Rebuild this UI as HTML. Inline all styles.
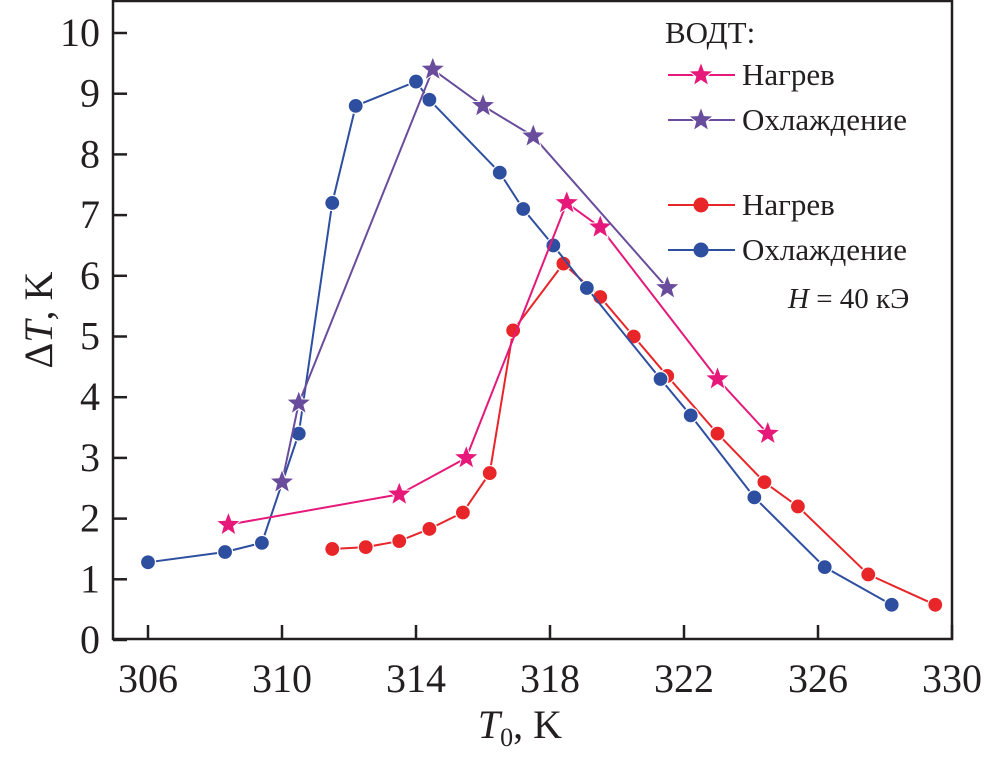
<!DOCTYPE html>
<html><head><meta charset="utf-8"><style>
body{margin:0;background:#fff}
svg text{font-family:"Liberation Serif","DejaVu Serif",serif;fill:#231f20}
</style></head><body>
<svg id="c" width="984" height="758" font-family="Liberation Serif, DejaVu Serif, serif">
<rect x="113" y="1" width="839" height="638" fill="none" stroke="#231f20" stroke-width="2.5"/>
<g id="ax"></g><g id="series"></g>
<text x="665" y="43" font-size="31">ВОДТ:</text>
<text x="520" y="738" font-size="40" text-anchor="middle"><tspan font-style="italic">T</tspan><tspan font-size="26" dy="8">0</tspan><tspan dy="-8">, K</tspan></text>
<text transform="translate(52,320) rotate(-90)" font-size="40" text-anchor="middle">Δ<tspan font-style="italic">T</tspan>, K</text>
<text x="788" y="308" font-size="29"><tspan font-style="italic">H</tspan> = 40 кЭ</text>
</svg>
<script>
const xTicks=[306,310,314,318,322,326,330];
const yTicks=[0,1,2,3,4,5,6,7,8,9,10];
const pinkX=[308.4,313.5,315.5,318.5,319.5,323,324.5];
const pinkY=[1.9,2.4,3.0,7.2,6.8,4.3,3.4];
const purpleX=[310,310.5,314.5,316,317.5,321.5];
const purpleY=[2.6,3.9,9.4,8.8,8.3,5.8];
const redX=[311.5,312.5,313.5,314.4,315.4,316.2,316.9,318.4,319.5,320.5,321.5,323,324.4,325.4,327.5,329.5];
const redY=[1.5,1.53,1.63,1.83,2.1,2.75,5.1,6.2,5.65,5.0,4.35,3.4,2.6,2.2,1.08,0.58];
const blueX=[306,308.3,309.4,310.5,311.5,312.2,314,314.4,316.5,317.2,318.1,319.1,321.3,322.2,324.1,326.2,328.2];
const blueY=[1.28,1.45,1.6,3.4,7.2,8.8,9.2,8.9,7.7,7.1,6.5,5.8,4.3,3.7,2.35,1.2,0.58];
const sx=v=>148+(v-306)*33.5, sy=v=>640-v*60.7;
const NS="http://www.w3.org/2000/svg";
function mk(t,a,p){const e=document.createElementNS(NS,t);for(const k in a)e.setAttribute(k,a[k]);p.appendChild(e);return e;}
const ax=document.getElementById('ax');
xTicks.forEach(v=>{
 const l=mk('line',{x1:sx(v),x2:sx(v),y1:639,y2:625,stroke:'#231f20','stroke-width':2.5},ax);
 
 
 const t=mk('text',{x:sx(v),y:692,'font-size':40,'text-anchor':'middle'},ax);t.textContent=v;
 
 
});
yTicks.forEach(v=>{
 const l=mk('line',{x1:113,x2:127,y1:sy(v),y2:sy(v),stroke:'#231f20','stroke-width':2.5},ax);
 
 
 const t=mk('text',{x:100,y:sy(v)+13,'font-size':40,'text-anchor':'end'},ax);t.textContent=v;
 
 
});
const g=document.getElementById('series');
function star(cx,cy,r,col,p){let pts=[];for(let i=0;i<10;i++){const rr=i%2?r*0.42:r,a=-Math.PI/2+i*Math.PI/5;pts.push((cx+rr*Math.cos(a)).toFixed(1)+','+(cy+rr*Math.sin(a)).toFixed(1));}
 const s=mk('polygon',{points:pts.join(' '),fill:col,stroke:'#fff','stroke-width':1},p);return s;}
function series(xs,ys,col,kind,name){
 const grp=mk('g',{},g);
 
 
 mk('polyline',{points:xs.map((x,i)=>sx(x)+','+sy(ys[i])).join(' '),fill:'none',stroke:col,'stroke-width':2},grp);
 xs.forEach((x,i)=>{
  let m;
  if(kind==='star')m=star(sx(x),sy(ys[i]),13,col,grp);
  else m=mk('circle',{cx:sx(x),cy:sy(ys[i]),r:7.5,fill:col,stroke:'#fff','stroke-width':1.2},grp);
  
  
 });
}
series(redX,redY,'#e8262a','circle','heating-circles');
series(blueX,blueY,'#2e4fa0','circle','cooling-circles');
series(pinkX,pinkY,'#e6197a','star','heating-stars');
series(purpleX,purpleY,'#6a4c9c','star','cooling-stars');
const leg=[['Нагрев','#e6197a','star',75],['Охлаждение','#6a4c9c','star',120],['Нагрев','#e8262a','c',205],['Охлаждение','#2e4fa0','c',250]];
leg.forEach(([lab,col,k,y])=>{
 const e=mk('g',{},g);
 
 
 mk('line',{x1:668,x2:735,y1:y,y2:y,stroke:col,'stroke-width':2},e);
 if(k==='star')star(701,y,13,col,e);else mk('circle',{cx:701,cy:y,r:7.5,fill:col},e);
 const t=mk('text',{x:742,y:y+10,'font-size':31},e);t.textContent=lab;
});
</script>
</body></html>
